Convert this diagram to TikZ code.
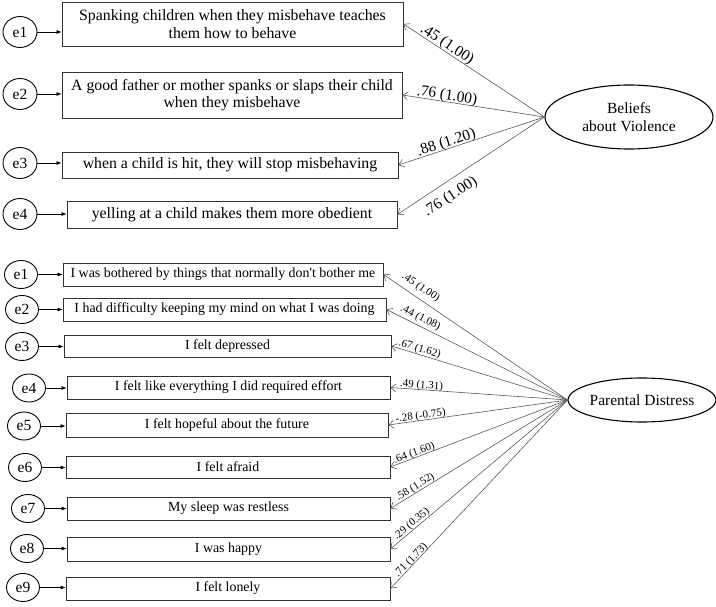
\documentclass[tikz,border=0pt]{standalone}
\usepackage{fontspec}
\setmainfont{Liberation Serif}
\newfontfamily\lser{Liberation Serif}
\usetikzlibrary{shapes.geometric,arrows.meta}
\begin{document}
\begin{tikzpicture}[x=1pt,y=-1pt,
  box/.style={draw=black!80, line width=0.8pt, inner sep=0pt, align=center},
  tbox/.style={box, font=\lser\fontsize{15.8}{17.5}\selectfont},
  bbox/.style={box, font=\lser\fontsize{13.9}{15}\selectfont},
  err/.style={draw, ellipse, line width=0.9pt, inner sep=0pt, minimum width=34pt, minimum height=31pt, font=\lser\fontsize{15.5}{17}\selectfont},
  berr/.style={err, minimum width=33pt, minimum height=28pt},
  lat/.style={draw, ellipse, line width=1.1pt, inner sep=0pt, align=center, font=\lser\fontsize{15.5}{18}\selectfont},
  earrow/.style={line width=0.7pt, -{Latex[length=5pt,width=4pt]}},
  larrow/.style={draw=black!65, line width=0.6pt, -{Straight Barb[length=5pt,width=8pt]}},
  tlab/.style={sloped, anchor=base, inner sep=0pt, font=\lser\fontsize{15.5}{17}\selectfont},
  blab/.style={sloped, anchor=base, inner sep=0pt, font=\lser\fontsize{11}{12}\selectfont},
]
\useasboundingbox (0,0) rectangle (716,607);

% ---------- top model ----------
\node[tbox, minimum width=341pt, minimum height=44pt] (T1) at (232.5,24) {Spanking children when they misbehave teaches\\them how to behave};
\node[tbox, minimum width=340pt, minimum height=46pt] (T2) at (232,95) {A good father or mother spanks or slaps their child\\when they misbehave};
\node[tbox, minimum width=336pt, minimum height=26pt] (T3) at (230,165) {when a child is hit, they will stop misbehaving};
\node[tbox, minimum width=330pt, minimum height=27pt] (T4) at (232,214.5) {yelling at a child makes them more obedient};

\node[err] (te1) at (20,32) {e1};
\node[err] (te2) at (20,94) {e2};
\node[err] (te3) at (20,163) {e3};
\node[err] (te4) at (20,214) {e4};

\draw[earrow] (te1) -- (te1 -| T1.west);
\draw[earrow] (te2) -- (te2 -| T2.west);
\draw[earrow] (te3) -- (te3 -| T3.west);
\draw[earrow] (te4) -- (te4 -| T4.west);

\node[lat, minimum width=168pt, minimum height=64pt] (BV) at (629,117) {Beliefs\\about Violence};

\draw[larrow] (BV.west) -- node[tlab, pos=0.717, yshift=3pt] {.45 (1.00)} (T1.east);
\draw[larrow] (BV.west) -- node[tlab, pos=0.692, yshift=2pt] {.76 (1.00)} (T2.east);
\draw[larrow] (BV.west) -- node[tlab, pos=0.659, yshift=2pt] {.88 (1.20)} (T3.east);
\draw[larrow] (BV.west) -- node[tlab, pos=0.693, yshift=-18.5pt] {.76 (1.00)} (T4.east);

% ---------- bottom model ----------
\node[bbox, minimum width=320pt, minimum height=23pt] (B1) at (223,274.5) {I was bothered by things that normally don't bother me};
\node[bbox, minimum width=323pt, minimum height=23pt] (B2) at (224.5,309.5) {I had difficulty keeping my mind on what I was doing};
\node[bbox, minimum width=327pt, minimum height=22pt] (B3) at (227.5,346) {I felt depressed};
\node[bbox, minimum width=323pt, minimum height=23pt] (B4) at (228.5,387.5) {I felt like everything I did required effort};
\node[bbox, minimum width=322pt, minimum height=24pt] (B5) at (227,425) {I felt hopeful about the future};
\node[bbox, minimum width=324pt, minimum height=22pt] (B6) at (228,467) {I felt afraid};
\node[bbox, minimum width=323pt, minimum height=23pt] (B7) at (228.5,508.5) {My sleep was restless};
\node[bbox, minimum width=323pt, minimum height=24pt] (B8) at (228.5,549) {I was happy};
\node[bbox, minimum width=324pt, minimum height=23pt] (B9) at (228,588.5) {I felt lonely};

\node[berr] (be1) at (21,274.5) {e1};
\node[berr] (be2) at (22,309.5) {e2};
\node[berr] (be3) at (22,346.5) {e3};
\node[berr] (be4) at (29,388) {e4};
\node[berr] (be5) at (24,426) {e5};
\node[berr] (be6) at (25,467.5) {e6};
\node[berr] (be7) at (28,508.5) {e7};
\node[berr] (be8) at (27,548.5) {e8};
\node[berr] (be9) at (23,587.5) {e9};

\foreach \i in {1,...,9} {
  \draw[earrow] (be\i) -- (be\i -| B\i.west);
}

\node[lat, minimum width=130pt, minimum height=44pt] (PD) at (642,400) {Parental Distress};

\draw[larrow] (PD.west) -- node[blab, pos=0.828, yshift=7.5pt] {.45 (1.00)} (B1.east);
\draw[larrow] (PD.west) -- node[blab, pos=0.831, yshift=5pt] {.44 (1.08)} (B2.east);
\draw[larrow] (PD.west) -- node[blab, pos=0.848, yshift=2.6pt] {.67 (1.62)} (B3.east);
\draw[larrow] (PD.west) -- node[blab, pos=0.826, yshift=1.5pt] {.49 (1.31)} (B4.east);
\draw[larrow] (PD.west) -- node[blab, pos=0.817, yshift=1.5pt] {-.28 (-0.75)} (B5.east);
\draw[larrow] (PD.west) -- node[blab, pos=0.856, yshift=1.8pt] {.64 (1.60)} (B6.east);
\draw[larrow] (PD.west) -- node[blab, pos=0.844, yshift=2.5pt] {.58 (1.52)} (B7.east);
\draw[larrow] (PD.west) -- node[blab, pos=0.860, yshift=2.7pt] {.29 (0.35)} (B8.east);
\draw[larrow] (PD.west) -- node[blab, pos=0.866, yshift=1.5pt] {.71 (1.73)} (B9.east);
\end{tikzpicture}
\end{document}
